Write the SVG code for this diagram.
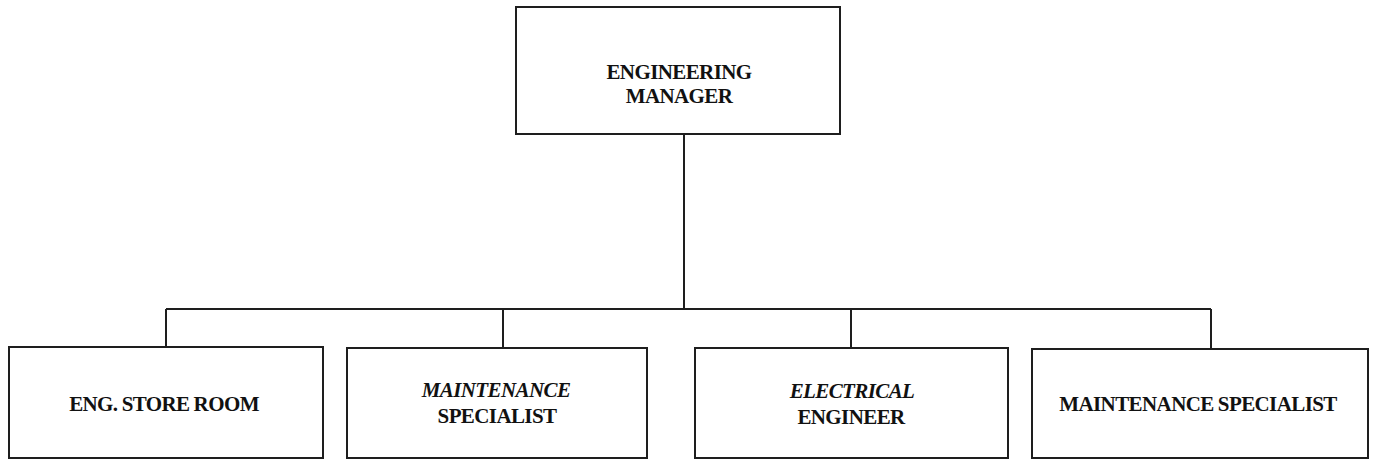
<svg xmlns="http://www.w3.org/2000/svg" width="1375" height="459" viewBox="0 0 1375 459">
  <style>
    .box { fill: #ffffff; stroke: #1e1e1e; stroke-width: 2; }
    .edge { fill: none; stroke: #1e1e1e; stroke-width: 2; }
    .label { font-family: "Liberation Serif", "Times New Roman", serif; font-weight: bold; font-size: 21px; letter-spacing: -0.6px; word-spacing: -0.5px; fill: #111111; text-anchor: middle; }
    .ital { font-style: italic; }
  </style>
  <rect width="1375" height="459" fill="#ffffff"/>

  <!-- reporting lines -->
  <g id="connectors">
    <path class="edge" d="M684 134 V309"/>
    <path class="edge" d="M166 309 H1211"/>
    <path class="edge" d="M166 309 V347"/>
    <path class="edge" d="M503 309 V348"/>
    <path class="edge" d="M851 309 V348"/>
    <path class="edge" d="M1211 309 V349"/>
  </g>

  <g id="engineering-manager">
    <rect class="box" x="516" y="7" width="324" height="127"/>
    <text class="label" x="679" y="79">ENGINEERING</text>
    <text class="label" x="679" y="103">MANAGER</text>
  </g>

  <g id="eng-store-room">
    <rect class="box" x="9" y="347" width="314" height="111"/>
    <text class="label" x="164" y="411">ENG. STORE ROOM</text>
  </g>

  <g id="maintenance-specialist-1">
    <rect class="box" x="347" y="348" width="300" height="110"/>
    <text class="label ital" x="496" y="397">MAINTENANCE</text>
    <text class="label" x="497" y="423">SPECIALIST</text>
  </g>

  <g id="electrical-engineer">
    <rect class="box" x="695" y="348" width="313" height="110"/>
    <text class="label ital" x="852" y="398">ELECTRICAL</text>
    <text class="label" x="851" y="424">ENGINEER</text>
  </g>

  <g id="maintenance-specialist-2">
    <rect class="box" x="1032" y="349" width="336" height="109"/>
    <text class="label" x="1198" y="411">MAINTENANCE SPECIALIST</text>
  </g>
</svg>
